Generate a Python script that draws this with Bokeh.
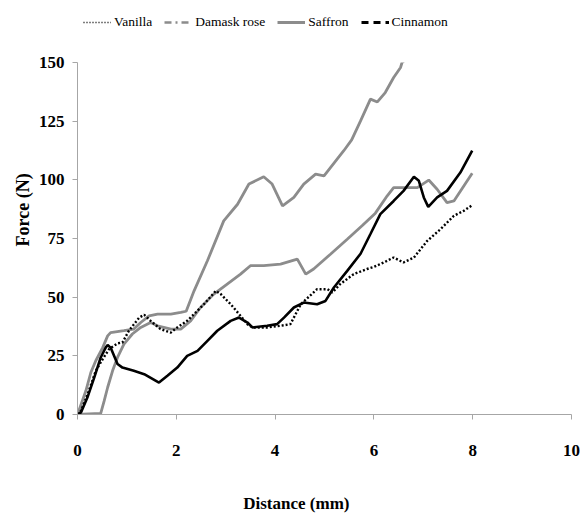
import numpy as np
from bokeh.plotting import figure
from bokeh.layouts import column
from bokeh.models import Range1d, Legend, LegendItem, Title, Label, FixedTicker
from bokeh.embed import file_html
from bokeh.resources import INLINE

x_ticks = [0, 2, 4, 6, 8, 10]
y_ticks = [0, 25, 50, 75, 100, 125, 150]

vanilla_x = [0, 0.07, 0.23, 0.37, 0.51, 0.64, 0.81, 0.91, 1.04, 1.25, 1.35, 1.48, 1.68, 1.89, 2.02, 2.22, 2.36,
             2.56, 2.80, 2.90, 3.10, 3.27, 3.44, 3.54, 3.84, 4.11, 4.31, 4.52, 4.85, 5.06, 5.16, 5.32, 5.59,
             5.86, 6.00, 6.20, 6.40, 6.60, 6.81, 7.08, 7.35, 7.62, 7.82, 7.99]
vanilla_y = [0, 1.5, 10.1, 18.6, 23.6, 27.9, 30.3, 30.7, 35.7, 41.3, 42.5, 39.9, 36.4, 34.9, 37.1, 39.9, 42.8,
             47.0, 52.7, 51.3, 47.0, 42.8, 38.5, 37.1, 37.1, 37.8, 38.5, 47.0, 53.4, 53.4, 52.0, 55.6, 59.8,
             62.0, 62.9, 64.8, 66.9, 64.8, 66.9, 74.0, 79.0, 84.7, 86.8, 89.2]

rose_x = [0, 0.47, 0.54, 0.61, 0.71, 0.81, 0.94, 1.11, 1.28, 1.48, 1.62, 1.89, 2.09, 2.29, 2.49, 2.76, 3.03,
          3.30, 3.50, 3.77, 4.11, 4.45, 4.62, 4.78, 5.12, 5.46, 5.76, 6.03, 6.27, 6.40, 6.60, 6.88, 7.11,
          7.28, 7.48, 7.62, 7.82, 7.99]
rose_y = [0, 0.5, 5.8, 11.5, 18.6, 24.3, 30.0, 34.3, 37.1, 39.2, 37.8, 36.4, 36.4, 39.9, 45.6, 51.3, 55.6,
          59.8, 63.4, 63.4, 64.1, 66.2, 59.8, 62.0, 68.3, 74.7, 80.4, 85.8, 93.2, 96.7, 96.7, 96.7, 99.9,
          96.0, 90.3, 91.0, 97.4, 102.8]

saffron_x = [0, 0.17, 0.27, 0.37, 0.51, 0.61, 0.67, 0.94, 1.14, 1.28, 1.45, 1.62, 1.89, 2.09, 2.20, 2.36,
             2.63, 2.96, 3.24, 3.47, 3.77, 3.94, 4.15, 4.38, 4.58, 4.82, 4.99, 5.39, 5.55, 5.73, 5.93, 6.07,
             6.23, 6.40, 6.54, 6.57, 6.75]
saffron_y = [0, 10.1, 17.9, 22.9, 28.5, 33.5, 34.9, 35.7, 36.4, 39.2, 42.0, 42.8, 42.8, 43.5, 44.0, 52.7,
             65.5, 82.5, 89.6, 98.2, 101.3, 98.2, 88.9, 92.5, 98.2, 102.4, 101.7, 112.4, 117.0, 125.1, 134.4,
             133.2, 137.2, 143.6, 147.9, 150.0, 153.0]

cinnamon_x = [0, 0.07, 0.2, 0.34, 0.47, 0.57, 0.61, 0.67, 0.81, 0.91, 1.14, 1.35, 1.65, 1.82, 2.02, 2.22,
              2.43, 2.63, 2.83, 3.10, 3.27, 3.44, 3.54, 3.84, 4.04, 4.18, 4.38, 4.58, 4.85, 5.02, 5.19, 5.46,
              5.73, 5.93, 6.13, 6.40, 6.60, 6.81, 6.91, 7.01, 7.10, 7.28, 7.48, 7.75, 7.99]
cinnamon_y = [0, 0.9, 7.2, 15.8, 24.3, 28.5, 29.6, 28.5, 21.5, 20.0, 18.6, 17.2, 13.6, 16.5, 20.0, 25.0,
              27.1, 31.4, 35.7, 39.9, 41.3, 39.2, 37.1, 37.8, 38.5, 41.3, 45.6, 47.7, 47.0, 48.4, 54.1, 61.2,
              68.5, 76.9, 85.4, 91.0, 95.3, 101.3, 99.6, 92.5, 88.5, 92.5, 95.3, 103.1, 112.4]

labels = ["Vanilla", "Damask rose", "Saffron", "Cinnamon"]
x_title = "Distance (mm)"
y_title = "Force (N)"

GRAY = "#8c8c8c"
FONT = "Liberation Serif"
LEG_H = 40
XT_H = 30


def strip(height, x_range, y_range):
    f = figure(width=581, height=height, output_backend="svg", toolbar_location=None,
               x_range=x_range, y_range=y_range,
               x_axis_location=None, y_axis_location=None,
               min_border=0, min_border_left=0, min_border_right=0,
               min_border_top=0, min_border_bottom=0)
    f.outline_line_color = None
    f.xgrid.visible = False
    f.ygrid.visible = False
    f.background_fill_color = "white"
    f.border_fill_color = "white"
    return f


# ---- legend strip (series drawn outside its visible range; only swatches show) ----
lf = strip(LEG_H, Range1d(-30, -29), Range1d(-30, -29))
lv = lf.line(vanilla_x, vanilla_y, line_color="black", line_width=1.5, line_dash="1 2")
lr = lf.line(rose_x, rose_y, line_color=GRAY, line_width=2.5, line_dash="7 4 2 4")
ls = lf.line(saffron_x, saffron_y, line_color=GRAY, line_width=3)
lc = lf.line(cinnamon_x, cinnamon_y, line_color="black", line_width=3, line_dash="7 5")

legend = Legend(items=[LegendItem(label=labels[0], renderers=[lv]),
                       LegendItem(label=labels[1], renderers=[lr]),
                       LegendItem(label=labels[2], renderers=[ls]),
                       LegendItem(label=labels[3], renderers=[lc])],
                location=(6, 10), orientation="horizontal", padding=0, margin=0,
                spacing=12, label_standoff=3, glyph_width=28, glyph_height=16, label_height=16,
                border_line_color=None, background_fill_alpha=0,
                label_text_font=FONT, label_text_font_size="13.5px", label_text_color="black")
lf.add_layout(legend)

# ---- main chart ----
p = figure(width=581, height=513 - LEG_H - XT_H, output_backend="svg", toolbar_location=None,
           x_range=Range1d(0, 10), y_range=Range1d(0, 150),
           min_border_left=77, min_border_right=10, min_border_top=62 - LEG_H,
           min_border_bottom=99 - XT_H)
p.outline_line_color = None
p.background_fill_color = "white"
p.border_fill_color = "white"
p.xgrid.visible = False
p.ygrid.visible = False

for ax in (p.xaxis[0], p.yaxis[0]):
    ax.axis_line_color = "#a6a6a6"
    ax.major_tick_line_color = "#a6a6a6"
    ax.minor_tick_line_color = None
    ax.major_tick_in = 0
    ax.major_tick_out = 5
    ax.major_label_text_font = FONT
    ax.major_label_text_font_style = "bold"
    ax.major_label_text_font_size = "17px"
    ax.major_label_text_color = "black"
p.xaxis[0].ticker = FixedTicker(ticks=x_ticks)
p.yaxis[0].ticker = FixedTicker(ticks=y_ticks)
p.xaxis[0].major_label_standoff = 25
p.yaxis[0].major_label_standoff = 8

p.line(saffron_x, saffron_y, line_color=GRAY, line_width=2.8)
p.line(rose_x, rose_y, line_color=GRAY, line_width=2.8)
p.line(cinnamon_x, cinnamon_y, line_color="black", line_width=2.6)
p.line(vanilla_x, vanilla_y, line_color="black", line_width=2.4, line_dash="2 2")

p.add_layout(Title(text=y_title, align="left", offset=168, standoff=6, text_color="black",
                   text_font=FONT, text_font_style="bold", text_font_size="18px"), "left")

# ---- x title strip (shares the main x scale) ----
xs = strip(XT_H, p.x_range, Range1d(0, 1))
xs.add_layout(Label(x=4.43, y=0.32, text=x_title, text_align="center", text_baseline="middle",
                    text_color="black", text_font=FONT, text_font_style="bold", text_font_size="17px"))

layout = column(lf, p, xs, spacing=0)
open("out.html", "w").write(file_html(layout, INLINE))
